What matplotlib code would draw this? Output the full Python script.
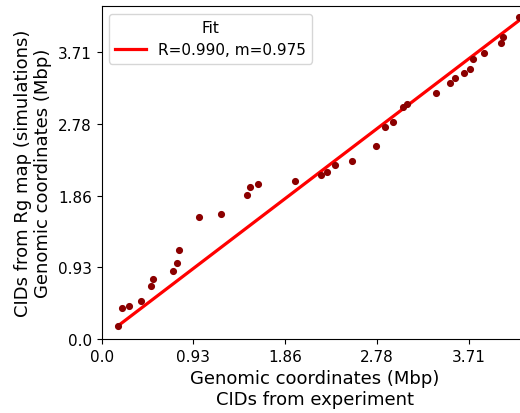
import numpy as np
import matplotlib
import matplotlib.pyplot as plt

matplotlib.use('Agg')

# CIDs positions (Mbp)
expX = [0.162, 0.205, 0.273, 0.400, 0.495, 0.522, 0.724, 0.758, 0.782, 0.981,
        1.206, 1.469, 1.500, 1.577, 1.951, 2.214, 2.275, 2.356, 2.531, 2.774,
        2.865, 2.948, 3.050, 3.090, 3.380, 3.525, 3.572, 3.660, 3.721, 3.751,
        3.869, 4.034, 4.061, 4.216]
simY = [0.172, 0.404, 0.431, 0.488, 0.690, 0.780, 0.880, 0.979, 1.155, 1.574,
        1.617, 1.863, 1.966, 2.005, 2.040, 2.125, 2.164, 2.247, 2.303, 2.501,
        2.746, 2.807, 3.005, 3.036, 3.186, 3.312, 3.377, 3.438, 3.489, 3.626,
        3.696, 3.829, 3.911, 4.162]

slope = 0.975
intercept = 0.01
fitLabel = "R=0.990, m=0.975"

tickVals = [0.0, 0.9275, 1.855, 2.7825, 3.71]
tickLabels = ["0.0", "0.93", "1.86", "2.78", "3.71"]

fig = plt.figure(figsize=(5.2, 4.14), dpi=100)
ax = fig.add_axes([0.1956, 0.1787, 0.82, 0.8043])

xs = np.array(expX)
xFit = np.array([xs.min(), xs.max()])
ax.plot(xFit, slope * xFit + intercept, color="red", lw=2.3, label=fitLabel, zorder=2)
ax.scatter(expX, simY, s=17, color="darkred", zorder=3)

ax.set_xlim(0, 4.31)
ax.set_ylim(0, 4.31)
ax.set_xticks(tickVals)
ax.set_xticklabels(tickLabels)
ax.set_yticks(tickVals)
ax.set_yticklabels(tickLabels)
ax.tick_params(labelsize=11)

ax.set_xlabel("Genomic coordinates (Mbp)\nCIDs from experiment", fontsize=13)
ax.set_ylabel("CIDs from Rg map (simulations)\nGenomic coordinates (Mbp)", fontsize=13)

ax.legend(title="Fit", loc="upper left", fontsize=11, title_fontsize=11)

fig.savefig("out.png", dpi=100)
plt.close(fig)
